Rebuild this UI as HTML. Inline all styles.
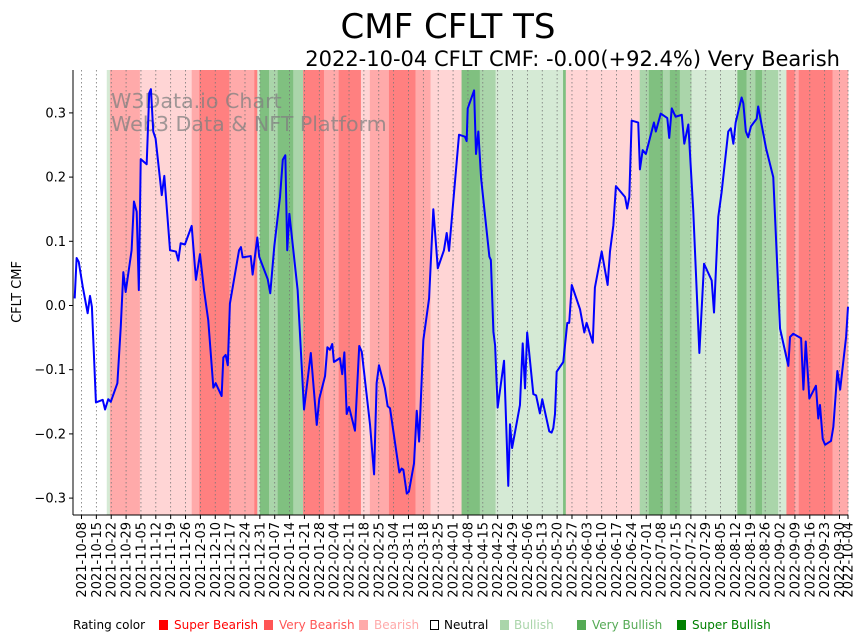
<!DOCTYPE html>
<html><head><meta charset="utf-8"><style>
html,body{margin:0;padding:0;background:#fff;}
svg{display:block;font-family:"DejaVu Sans","Liberation Sans",sans-serif;}
</style></head><body>
<svg id="chart" width="867" height="641" viewBox="0 0 867 641" xmlns="http://www.w3.org/2000/svg">
<text x="448" y="38" font-size="34" text-anchor="middle" fill="#000">CMF CFLT TS</text>
<text x="840" y="66" font-size="21" text-anchor="end" fill="#000">2022-10-04 CFLT CMF: -0.00(+92.4%) Very Bearish</text>
<g id="bands"></g>
<g id="grid"></g>
<g fill="#808080" fill-opacity="0.75" font-size="20.6">
<text x="111" y="108">W3Data.io Chart</text>
<text x="111" y="131">Web3 Data &amp; NFT Platform</text>
</g>
<path id="line" fill="none" stroke="#0000ff" stroke-width="2" stroke-linejoin="round"></path>
<line x1="73" y1="70" x2="73" y2="515" stroke="#000" stroke-width="1"/>
<line x1="73" y1="515" x2="848" y2="515" stroke="#000" stroke-width="1"/>
<g id="yticks"></g>
<g id="xticks"></g>
<text transform="translate(21,292) rotate(-90)" font-size="13" text-anchor="middle">CFLT CMF</text>
<g font-size="12">
<text x="73" y="629">Rating color</text>
<rect x="159" y="620" width="9" height="10" fill="#ff0000"/>
<text x="174" y="629" fill="#ff0000">Super Bearish</text>
<rect x="264" y="620" width="9" height="10" fill="#ff5555"/>
<text x="279" y="629" fill="#ff5555">Very Bearish</text>
<rect x="359" y="620" width="9" height="10" fill="#ffaaaa"/>
<text x="374" y="629" fill="#ffaaaa">Bearish</text>
<rect x="430.5" y="620.5" width="8" height="9" fill="#fff" stroke="#000"/>
<text x="444" y="629" fill="#000">Neutral</text>
<rect x="500" y="620" width="9" height="10" fill="#aad5aa"/>
<text x="514" y="629" fill="#aad5aa">Bullish</text>
<rect x="577" y="620" width="9" height="10" fill="#55aa55"/>
<text x="592" y="629" fill="#55aa55">Very Bullish</text>
<rect x="677" y="620" width="9" height="10" fill="#008000"/>
<text x="692" y="629" fill="#008000">Super Bullish</text>
</g>
</svg>
<script>
// days since 2021-10-04
const lineDays = [0.8,1.7,2.7,4.6,6.9,8.0,8.9,10.8,14.0,15.1,16.6,17.8,20.9,22.5,23.7,24.8,27.6,28.7,30.0,31.0,31.9,34.7,35.9,36.7,37.8,38.9,41.8,43.0,45.7,48.5,49.6,50.7,52.7,55.9,57.9,59.8,61.7,63.7,66.1,67.2,70.0,70.8,71.9,72.9,73.9,78.2,79.1,79.9,83.7,84.6,86.8,87.7,91.7,92.9,94.8,97.5,98.8,100.0,100.9,101.9,105.8,108.8,112.0,114.8,116.0,118.7,119.8,121.0,122.1,122.9,125.7,126.8,127.8,128.9,130.0,132.8,134.8,136.0,139.9,141.8,143.0,144.1,146.9,148.2,149.3,153.7,154.8,155.6,157.2,158.2,160.6,161.9,163.0,165.0,167.7,169.7,171.8,174.7,176.0,177.1,181.8,184.6,185.4,185.9,188.9,189.8,190.9,192.2,196.1,196.8,198.0,198.8,200.0,203.0,205.0,205.8,206.8,210.5,211.8,212.9,213.9,216.8,218.1,219.9,221.0,224.3,225.4,226.2,227.0,227.8,230.9,232.8,233.7,234.9,238.8,240.8,241.9,244.8,245.8,249.0,251.8,252.9,254.5,255.7,260.0,261.0,262.0,263.1,266.2,267.0,268.3,269.8,273.6,274.5,276.8,279.9,280.8,282.0,283.8,286.7,287.9,289.8,292.1,295.0,297.2,300.8,301.9,303.9,305.5,308.6,309.8,311.0,312.1,314.9,315.7,316.9,318.0,319.3,322.0,322.7,326.4,329.8,333.0,336.9,337.7,339.2,342.9,344.0,345.1,346.8,349.9,351.0,351.8,353.1,354.2,357.0,358.1,360.0,361.3,364.1,365];
const cmfValues = [0.011,0.074,0.068,0.029,-0.012,0.015,-0.002,-0.151,-0.147,-0.162,-0.146,-0.150,-0.121,-0.033,0.052,0.021,0.086,0.162,0.146,0.024,0.228,0.220,0.331,0.337,0.271,0.260,0.172,0.202,0.086,0.084,0.070,0.097,0.095,0.124,0.040,0.080,0.024,-0.023,-0.128,-0.121,-0.141,-0.081,-0.077,-0.093,0.003,0.086,0.091,0.075,0.077,0.048,0.106,0.076,0.041,0.019,0.092,0.169,0.227,0.234,0.086,0.143,0.024,-0.162,-0.074,-0.186,-0.145,-0.110,-0.065,-0.069,-0.060,-0.088,-0.082,-0.107,-0.073,-0.169,-0.158,-0.195,-0.063,-0.072,-0.186,-0.263,-0.121,-0.093,-0.129,-0.157,-0.160,-0.260,-0.254,-0.256,-0.293,-0.290,-0.246,-0.164,-0.212,-0.054,0.011,0.150,0.058,0.086,0.113,0.085,0.266,0.263,0.256,0.307,0.335,0.236,0.271,0.198,0.076,0.071,-0.041,-0.062,-0.159,-0.086,-0.281,-0.185,-0.222,-0.155,-0.059,-0.129,-0.042,-0.138,-0.140,-0.168,-0.146,-0.196,-0.198,-0.191,-0.169,-0.103,-0.088,-0.027,-0.027,0.032,-0.006,-0.042,-0.027,-0.058,0.028,0.084,0.032,0.084,0.125,0.186,0.169,0.151,0.169,0.288,0.285,0.212,0.242,0.236,0.285,0.271,0.299,0.292,0.261,0.307,0.294,0.297,0.252,0.282,0.149,-0.074,0.065,0.039,-0.011,0.138,0.177,0.271,0.276,0.252,0.285,0.324,0.315,0.271,0.262,0.279,0.291,0.310,0.245,0.200,-0.036,-0.094,-0.049,-0.044,-0.051,-0.131,-0.056,-0.145,-0.125,-0.176,-0.155,-0.208,-0.217,-0.211,-0.189,-0.102,-0.131,-0.049,-0.002];
const bandStarts = [0,15.9,17.4,31.5,55.9,59.5,73.6,85.4,86.8,88,92.3,96.4,103.7,108.4,118.2,125.1,135.6,139.8,148.8,161.3,168.4,183,191.6,199,230.8,232.1,266.9,271.2,277.9,281.1,285.8,291.3,312.9,317.2,321.4,324.5,332.1,336,339.9,341.8,357.7];
const bandEnds = [15.9,17.4,31.5,55.9,59.5,73.6,85.4,86.8,88,92.3,96.4,103.7,108.4,118.2,125.1,135.6,139.8,148.8,161.3,168.4,183,191.6,199,230.8,232.1,266.9,271.2,277.9,281.1,285.8,291.3,312.9,317.2,321.4,324.5,332.1,336,339.9,341.8,357.7,365];
const bandRatings = ["Neutral","Bullish","Very Bearish","Bearish","Very Bearish","Super Bearish","Very Bearish","Super Bearish","Bullish","Super Bullish","Very Bullish","Super Bullish","Very Bullish","Super Bearish","Very Bearish","Super Bearish","Bearish","Very Bearish","Super Bearish","Very Bearish","Bearish","Super Bullish","Very Bullish","Bullish","Super Bullish","Bearish","Very Bullish","Super Bullish","Very Bullish","Super Bullish","Very Bullish","Bullish","Super Bullish","Very Bullish","Super Bullish","Very Bullish","Bullish","Super Bearish","Very Bearish","Super Bearish","Very Bearish"];
const yTickValues = [-0.3,-0.2,-0.1,0.0,0.1,0.2,0.3];
const yTickLabels = ["−0.3","−0.2","−0.1","0.0","0.1","0.2","0.3"];
const xTickDays = [4,11,18,25,32,39,46,53,60,67,74,81,88,95,102,109,116,123,130,137,144,151,158,165,172,179,186,193,200,207,214,221,228,235,242,249,256,263,270,277,284,291,298,305,312,319,326,333,340,347,354,361,365];
const xTickLabels = ["2021-10-08","2021-10-15","2021-10-22","2021-10-29","2021-11-05","2021-11-12","2021-11-19","2021-11-26","2021-12-03","2021-12-10","2021-12-17","2021-12-24","2021-12-31","2022-01-07","2022-01-14","2022-01-21","2022-01-28","2022-02-04","2022-02-11","2022-02-18","2022-02-25","2022-03-04","2022-03-11","2022-03-18","2022-03-25","2022-04-01","2022-04-08","2022-04-15","2022-04-22","2022-04-29","2022-05-06","2022-05-13","2022-05-20","2022-05-27","2022-06-03","2022-06-10","2022-06-17","2022-06-24","2022-07-01","2022-07-08","2022-07-15","2022-07-22","2022-07-29","2022-08-05","2022-08-12","2022-08-19","2022-08-26","2022-09-02","2022-09-09","2022-09-16","2022-09-23","2022-09-30","2022-10-04"];

const NS = "http://www.w3.org/2000/svg";
const X0 = 73, X1 = 848, Y0 = 70, Y1 = 515, DMAX = 365;
function xScale(d){ return X0 + d / DMAX * (X1 - X0); }
function yScale(v){ return 305.5 - v * 642; }
const bandColors = {"Super Bearish":"#ff8080","Very Bearish":"#ffaaaa","Bearish":"#ffd5d5","Neutral":"#ffffff","Bullish":"#d5ead5","Very Bullish":"#aad5aa","Super Bullish":"#80c080"};

const gB = document.getElementById('bands');
for (let i = 0; i < bandStarts.length; i++) {
  const r = document.createElementNS(NS, 'rect');
  
  
  const xa = xScale(bandStarts[i]), xb = xScale(bandEnds[i]);
  r.setAttribute('x', xa); r.setAttribute('y', Y0);
  r.setAttribute('width', Math.max(0, xb - xa) + 0.3); r.setAttribute('height', Y1 - Y0);
  r.setAttribute('fill', bandColors[bandRatings[i]]);
  gB.appendChild(r);
}
const gG = document.getElementById('grid');
const gX = document.getElementById('xticks');
for (let i = 0; i < xTickDays.length; i++) {
  const x = xScale(xTickDays[i]);
  const gl = document.createElementNS(NS, 'line');
  
  
  gl.setAttribute('x1', x); gl.setAttribute('x2', x); gl.setAttribute('y1', Y0); gl.setAttribute('y2', Y1);
  gl.setAttribute('stroke', '#777'); gl.setAttribute('stroke-width', '0.8'); gl.setAttribute('stroke-dasharray', '1.5,2.5');
  gG.appendChild(gl);
  const tk = document.createElementNS(NS, 'line');
  
  
  tk.setAttribute('x1', x); tk.setAttribute('x2', x); tk.setAttribute('y1', Y1); tk.setAttribute('y2', Y1 + 4);
  tk.setAttribute('stroke', '#000');
  gX.appendChild(tk);
  const t = document.createElementNS(NS, 'text');
  
  
  t.setAttribute('font-size', '13');
  t.setAttribute('text-anchor', 'end');
  t.setAttribute('transform', 'translate(' + (x + 4.5) + ',' + (Y1 + 7) + ') rotate(-90)');
  t.textContent = xTickLabels[i];
  gX.appendChild(t);
}
const gY = document.getElementById('yticks');
for (let i = 0; i < yTickValues.length; i++) {
  const y = yScale(yTickValues[i]);
  const tk = document.createElementNS(NS, 'line');
  
  
  tk.setAttribute('x1', X0 - 4); tk.setAttribute('x2', X0); tk.setAttribute('y1', y); tk.setAttribute('y2', y);
  tk.setAttribute('stroke', '#000');
  gY.appendChild(tk);
  const t = document.createElementNS(NS, 'text');
  
  
  t.setAttribute('font-size', '13'); t.setAttribute('text-anchor', 'end');
  t.setAttribute('x', X0 - 7); t.setAttribute('y', y + 4.5);
  t.textContent = yTickLabels[i];
  gY.appendChild(t);
}
let d = '';
for (let i = 0; i < lineDays.length; i++) {
  d += (i ? 'L' : 'M') + xScale(lineDays[i]).toFixed(2) + ',' + yScale(cmfValues[i]).toFixed(2);
}
document.getElementById('line').setAttribute('d', d);
</script>
</body></html>
